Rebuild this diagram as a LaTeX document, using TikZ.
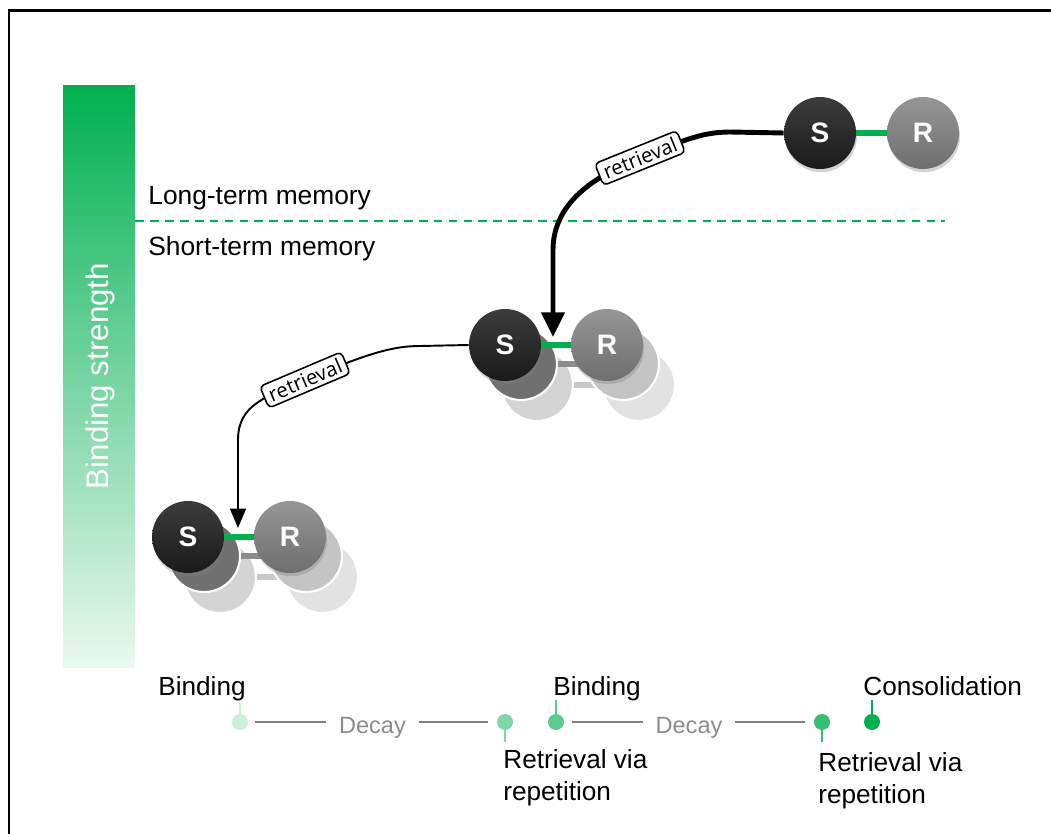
\documentclass[tikz,border=0pt]{standalone}
\usepackage{fontspec}
\setmainfont{Liberation Sans}
\newfontfamily\retrfont{Open Sans}
\usetikzlibrary{arrows.meta, shadows}

\definecolor{bsGreen}{RGB}{0,176,80}
\definecolor{sDarkTop}{RGB}{60,60,60}
\definecolor{sDarkBot}{RGB}{26,26,26}
\definecolor{rGreyTop}{RGB}{150,150,150}
\definecolor{rGreyBot}{RGB}{110,110,110}
\definecolor{ghostS1}{RGB}{112,112,112}
\definecolor{ghostR1}{RGB}{196,196,196}
\definecolor{ghostS2}{RGB}{212,212,212}
\definecolor{ghostR2}{RGB}{226,226,226}
\definecolor{ghostBar1}{RGB}{140,140,140}
\definecolor{ghostBar2}{RGB}{200,200,200}
\definecolor{decayGrey}{RGB}{128,128,128}
\definecolor{decayText}{RGB}{140,140,140}

\begin{document}
\begin{tikzpicture}[x=0.02cm, y=-0.02cm,
    ball/.style={circle, minimum size=1.44cm, inner sep=0pt, text=white,
      font=\fontsize{16}{16}\selectfont\bfseries,
      drop shadow={shadow xshift=0.6pt, shadow yshift=-1.8pt, opacity=0.35}},
    sball/.style={ball, top color=sDarkTop, bottom color=sDarkBot},
    rball/.style={ball, top color=rGreyTop, bottom color=rGreyBot},
    ghost/.style={circle, minimum size=1.44cm, inner sep=0pt, draw=white, line width=1.2pt},
    bond/.style={bsGreen, line width=3.4pt},
    retrthick/.style={line width=2.8pt, -{Triangle[length=14pt, width=13pt]}},
    retrthin/.style={line width=1.1pt, -{Triangle[length=11pt, width=9pt]}},
    retr/.style={draw, fill=white, rounded corners=2.5pt, line width=0.9pt,
      inner xsep=3pt, inner ysep=2.2pt, font=\retrfont\fontsize{11.6}{13}\selectfont},
    memlbl/.style={inner sep=0pt, font=\fontsize{15}{18}\selectfont},
    lbl/.style={inner sep=0pt, align=left, font=\fontsize{14.9}{18.1}\selectfont},
    decaylbl/.style={inner ysep=0pt, inner xsep=7pt, text=decayText,
      font=\fontsize{13.4}{16}\selectfont},
    tdot/.style={circle, minimum size=0.32cm, inner sep=0pt},
    tline/.style={decayGrey, line width=1.3pt},
    stem/.style={line width=1.2pt}]
  \useasboundingbox (0,0) rectangle (1051,834);

  % frame
  \draw[line width=1.7pt] (9,834) -- (9,10.5) -- (1051,10.5);

  % binding strength bar
  \node[minimum width=1.44cm, minimum height=11.66cm, inner sep=0pt,
    top color=bsGreen, bottom color=bsGreen!8] (bsBar) at (99,376.5) {};
  \node[rotate=90, text=white, inner sep=0pt, font=\fontsize{17.8}{20}\selectfont]
    (bsText) at (100,376) {Binding strength};

  % memory border
  \draw[bsGreen, line width=0.9pt, dash pattern=on 5pt off 3.5pt] (135,221) -- (945,221);
  \node[memlbl, anchor=base west] (ltm) at (148,205) {Long-term memory};
  \node[memlbl, anchor=base west] (stm) at (148,256) {Short-term memory};

  % fading copies behind the pairs
  \foreach \px/\py in {505/345, 188/537} {
    \foreach \dx/\dy/\gs/\gr/\gb in {32/40/ghostS2/ghostR2/ghostBar2, 16/19/ghostS1/ghostR1/ghostBar1} {
      \node[ghost, fill=\gs] (gS) at ({\px+\dx}, {\py+\dy}) {};
      \node[ghost, fill=\gr] (gR) at ({\px+102+\dx}, {\py+\dy}) {};
      \draw[\gb, line width=3.4pt] (gS.east) -- (gR.west);
    }
  }

  % stimulus-response pairs
  \node[sball] (sT) at (820,133) {S};
  \node[rball] (rT) at (923,133) {R};
  \draw[bond] (sT) -- (rT);
  \node[sball] (sM) at (505,345) {S};
  \node[rball] (rM) at (607,345) {R};
  \draw[bond] (sM) -- (rM);
  \node[sball] (sB) at (188,537) {S};
  \node[rball] (rB) at (290,537) {R};
  \draw[bond] (sB) -- (rB);

  % retrieval arrows
  \coordinate (tipM) at (553,337);
  \coordinate (tipB) at (238,528);
  \draw[retrthick] (sT.west) -- (730,132) .. controls (700,132) and (680,142) .. (640,158)
    .. controls (600,174) and (553,200) .. (553,250) -- (tipM);
  \node[retr, rotate=22] (retrA) at (640,158) {retrieval};
  \draw[retrthin] (sM.west) -- (420,346) .. controls (395,346) and (370,352) .. (305,380)
    .. controls (265,397) and (238,405) .. (238,440) -- (tipB);
  \node[retr, rotate=23] (retrB) at (305,380) {retrieval};

  % timeline
  \node[tdot, fill=bsGreen!20] (dot1) at (240,722) {};
  \node[tdot, fill=bsGreen!50] (dot2) at (505,722) {};
  \node[tdot, fill=bsGreen!65] (dot3) at (556,722) {};
  \node[tdot, fill=bsGreen!80] (dot4) at (822,722) {};
  \node[tdot, fill=bsGreen] (dot5) at (872,722) {};
  \draw[stem, bsGreen!20] (dot1.north) -- ++(0,-11);
  \draw[stem, bsGreen!50] (dot2.south) -- ++(0,12);
  \draw[stem, bsGreen!65] (dot3.north) -- ++(0,-14);
  \draw[stem, bsGreen!80] (dot4.south) -- ++(0,12);
  \draw[stem, bsGreen] (dot5.north) -- ++(0,-14);

  \node[decaylbl, anchor=base] (decay1) at (372.5,733) {Decay};
  \node[decaylbl, anchor=base] (decay2) at (689,733) {Decay};
  \draw[tline, shorten <=4pt] (dot1.east) -- (dot1.east -| decay1.west);
  \draw[tline, shorten >=5pt] (decay1.east |- dot2.west) -- (dot2.west);
  \draw[tline, shorten <=4.5pt] (dot3.east) -- (dot3.east -| decay2.west);
  \draw[tline, shorten >=5pt] (decay2.east |- dot4.west) -- (dot4.west);

  \node[lbl, anchor=base west] (bind1) at (158,695) {Binding};
  \node[lbl, anchor=base west] (bind2) at (553,695) {Binding};
  \node[lbl, anchor=base west] (cons) at (863,695) {Consolidation};
  \node[lbl, anchor=north west] (rep1) at (503,749) {Retrieval via\\repetition};
  \node[lbl, anchor=north west] (rep2) at (818,752) {Retrieval via\\repetition};
\end{tikzpicture}
\end{document}
